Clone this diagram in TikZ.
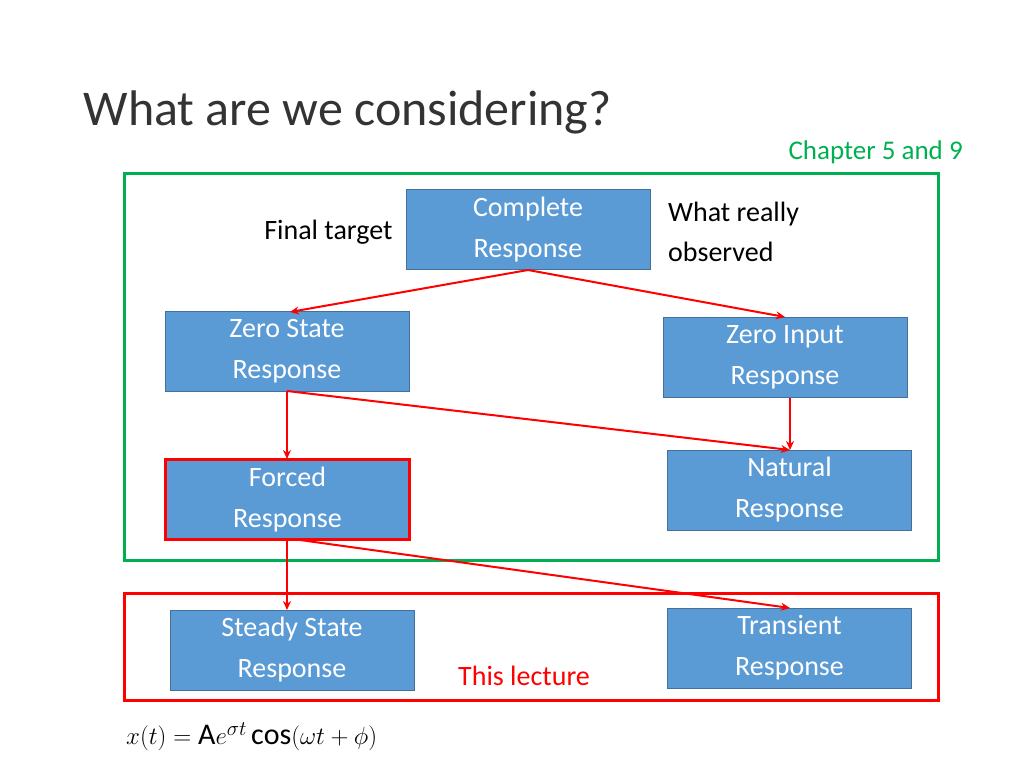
\documentclass[tikz,border=0pt]{standalone}
\usepackage{fontspec}
\setmainfont{Carlito}
\usetikzlibrary{arrows.meta}
\definecolor{boxfill}{HTML}{5B9BD5}
\definecolor{boxline}{HTML}{41719C}
\definecolor{grn}{HTML}{00B050}
\definecolor{rd}{HTML}{FF0000}
\begin{document}
\begin{tikzpicture}[x=1pt,y=-1pt,
  blk/.style={draw=boxline,fill=boxfill,line width=1pt,minimum width=244pt,minimum height=80pt,text=white,font=\fontsize{28}{41}\selectfont,align=center,inner sep=0pt},
  arr/.style={draw=rd,line width=2pt,-{Stealth[length=9pt,width=8pt]}}]
\useasboundingbox (0,0) rectangle (1024,768);
\node[anchor=west,font=\fontsize{50}{60}\selectfont,text=black!80] (title) at (80,112) {What are we considering?};
\node[anchor=west,font=\fontsize{27}{32}\selectfont,text=grn] (chap) at (785,152) {Chapter 5 and 9};
\draw[grn,line width=3pt] (124,173) rectangle (938,560);
\draw[rd,line width=3pt] (124,593) rectangle (938,700);
\node[blk] (cr) at (528,229.5) {Complete\\Response};
\node[blk] (zs) at (287,351) {Zero State\\Response};
\node[blk] (zi) at (785,357) {Zero Input\\Response};
\node[blk,draw=rd,line width=3pt] (fr) at (287.5,499.5) {Forced\\Response};
\node[blk] (nr) at (789.5,490) {Natural\\Response};
\node[blk] (ss) at (292,650) {Steady State\\Response};
\node[blk] (tr) at (789.5,648) {Transient\\Response};
\node[anchor=east,font=\fontsize{28}{34}\selectfont] (ft) at (396,232) {Final target};
\node[anchor=west,align=left,font=\fontsize{28}{40}\selectfont,inner sep=0pt] (wr) at (668,232) {What really\\observed};
\node[anchor=west,text=rd,font=\fontsize{28}{34}\selectfont,inner sep=0pt] (tl) at (458,676) {This lecture};
\node[anchor=west,font=\fontsize{30}{36}\selectfont,inner sep=0pt] (eq) at (126,737) {$x(t)=\mathrm{A}e^{\sigma t}\cos\bigl(\omega t+\phi\bigr)$};
\coordinate (c1) at (528,270);
\draw[arr] (c1) -- (290,312);
\draw[arr] (c1) -- (785,317);
\coordinate (z1) at (287,391);
\draw[arr] (z1) -- (287,459);
\draw[arr] (z1) -- (790,450);
\draw[arr] (zi.south -| 790,0) -- (790,450);
\draw[arr] (287,540) -- (287,610);
\draw[arr] (300,540) -- (790,608);
\end{tikzpicture}
\end{document}
